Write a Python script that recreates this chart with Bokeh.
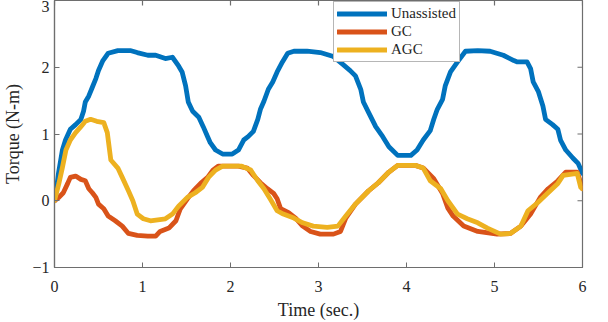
from bokeh.plotting import figure
from bokeh.models import Range1d, FixedTicker, Legend, LegendItem
from bokeh.embed import file_html
from bokeh.resources import INLINE

# ---- data ----
t_unassisted = [0.0, 0.01, 0.045, 0.09, 0.125, 0.18, 0.24, 0.30, 0.33, 0.35, 0.39, 0.43, 0.47, 0.50, 0.55,
                0.61, 0.72, 0.86, 0.94, 1.06, 1.15, 1.26, 1.34, 1.41, 1.45, 1.49, 1.52, 1.57, 1.64, 1.69,
                1.74, 1.77, 1.83, 1.91, 2.02, 2.09, 2.15, 2.20, 2.26, 2.31, 2.34, 2.38, 2.43, 2.48, 2.53,
                2.59, 2.65, 2.72, 2.87, 3.02, 3.17, 3.27, 3.36, 3.42, 3.48, 3.51, 3.57, 3.65, 3.73, 3.80,
                3.90, 4.05, 4.12, 4.19, 4.27, 4.31, 4.35, 4.41, 4.44, 4.50, 4.58, 4.67, 4.81, 4.95, 5.10,
                5.22, 5.26, 5.37, 5.41, 5.44, 5.50, 5.55, 5.58, 5.66, 5.72, 5.75, 5.81, 5.89, 5.95, 6.0]
v_unassisted = [0.0, 0.05, 0.41, 0.76, 0.91, 1.07, 1.14, 1.22, 1.34, 1.48, 1.57, 1.70, 1.83, 1.95, 2.10,
                2.21, 2.25, 2.25, 2.22, 2.18, 2.18, 2.13, 2.15, 2.02, 1.93, 1.72, 1.48, 1.34, 1.25, 1.11,
                0.96, 0.87, 0.76, 0.70, 0.70, 0.76, 0.91, 0.96, 1.04, 1.22, 1.37, 1.49, 1.67, 1.78, 1.93,
                2.08, 2.21, 2.24, 2.24, 2.22, 2.16, 2.05, 1.95, 1.87, 1.67, 1.48, 1.32, 1.11, 0.96, 0.81,
                0.68, 0.68, 0.76, 0.91, 1.05, 1.22, 1.37, 1.52, 1.72, 1.93, 2.08, 2.24, 2.25, 2.24, 2.18,
                2.10, 2.08, 2.08, 1.98, 1.78, 1.63, 1.42, 1.22, 1.14, 1.07, 0.91, 0.76, 0.64, 0.56, 0.41]

t_gc = [0.0, 0.05, 0.10, 0.15, 0.18, 0.24, 0.30, 0.35, 0.39, 0.43, 0.47, 0.50, 0.56, 0.61, 0.69, 0.77,
        0.84, 0.94, 1.06, 1.15, 1.20, 1.30, 1.38, 1.43, 1.51, 1.58, 1.66, 1.74, 1.80, 1.86, 2.09, 2.19,
        2.26, 2.34, 2.42, 2.49, 2.53, 2.57, 2.66, 2.74, 2.82, 2.91, 3.02, 3.17, 3.25, 3.31, 3.42, 3.57,
        3.68, 3.80, 3.90, 4.10, 4.19, 4.31, 4.41, 4.47, 4.53, 4.65, 4.81, 5.03, 5.18, 5.30, 5.41, 5.52,
        5.61, 5.72, 5.81, 5.94, 6.0]
v_gc = [0.0, 0.05, 0.12, 0.26, 0.35, 0.37, 0.32, 0.30, 0.18, 0.12, 0.05, -0.05, -0.12, -0.23, -0.30, -0.38,
        -0.49, -0.52, -0.53, -0.53, -0.46, -0.41, -0.30, -0.12, 0.03, 0.15, 0.26, 0.35, 0.46, 0.52, 0.52, 0.49,
        0.38, 0.27, 0.18, 0.11, 0.03, -0.12, -0.18, -0.26, -0.38, -0.46, -0.50, -0.50, -0.46, -0.26, -0.05, 0.15,
        0.27, 0.43, 0.53, 0.53, 0.49, 0.33, 0.11, -0.11, -0.23, -0.38, -0.46, -0.50, -0.49, -0.38, -0.20, 0.05,
        0.18, 0.30, 0.43, 0.43, 0.18]

t_agc = [0.0, 0.05, 0.09, 0.13, 0.18, 0.24, 0.30, 0.35, 0.41, 0.48, 0.56, 0.60, 0.64, 0.72, 0.77, 0.84,
         0.89, 0.94, 1.01, 1.09, 1.26, 1.34, 1.41, 1.51, 1.60, 1.68, 1.75, 1.83, 1.91, 2.12, 2.23, 2.31,
         2.38, 2.45, 2.53, 2.60, 2.72, 2.82, 2.94, 3.10, 3.22, 3.31, 3.42, 3.57, 3.68, 3.80, 3.90, 4.10,
         4.19, 4.27, 4.39, 4.47, 4.58, 4.69, 4.81, 4.92, 5.07, 5.18, 5.30, 5.38, 5.49, 5.60, 5.72, 5.78,
         5.94, 5.98, 6.0]
v_agc = [0.0, 0.26, 0.50, 0.76, 0.91, 1.02, 1.11, 1.19, 1.22, 1.19, 1.17, 1.02, 0.61, 0.49, 0.35, 0.15,
         0.0, -0.20, -0.27, -0.30, -0.27, -0.20, -0.08, 0.05, 0.12, 0.20, 0.35, 0.46, 0.52, 0.52, 0.46, 0.30,
         0.18, 0.03, -0.15, -0.20, -0.26, -0.33, -0.38, -0.40, -0.38, -0.23, -0.05, 0.15, 0.27, 0.43, 0.53, 0.53,
         0.49, 0.30, 0.18, 0.0, -0.20, -0.27, -0.33, -0.41, -0.50, -0.49, -0.38, -0.15, -0.03, 0.11, 0.26, 0.38,
         0.41, 0.20, 0.18]

labels = ["Unassisted", "GC", "AGC"]
colors = ["#0072BD", "#D95319", "#EDB120"]
x_ticks = [0, 1, 2, 3, 4, 5, 6]
y_ticks = [-1, 0, 1, 2, 3]
x_min, x_max, y_min, y_max = 0, 6, -1, 3

FONT = "Liberation Serif"
AX = "#6e6e6e"
TXT = "#262626"

p = figure(width=608, height=322, output_backend="svg", toolbar_location=None,
           x_range=Range1d(x_min, x_max), y_range=Range1d(y_min, y_max),
           min_border_left=10, min_border_right=26, min_border_top=0, min_border_bottom=55)
p.xgrid.visible = False
p.ygrid.visible = False
p.outline_line_color = AX
p.outline_line_width = 1.2
p.background_fill_color = "white"
p.border_fill_color = "white"

for ax in (p.xaxis[0], p.yaxis[0]):
    ax.axis_line_color = AX
    ax.axis_line_width = 1.2
    ax.major_tick_line_color = AX
    ax.major_tick_in = 5
    ax.major_tick_out = 0
    ax.minor_tick_line_color = None
    ax.major_label_text_font = FONT
    ax.major_label_text_font_size = "16px"
    ax.major_label_text_color = TXT
    ax.axis_label_text_font = FONT
    ax.axis_label_text_font_size = "18px"
    ax.axis_label_text_font_style = "normal"
    ax.axis_label_text_color = TXT

p.xaxis.ticker = FixedTicker(ticks=x_ticks)
p.yaxis.ticker = FixedTicker(ticks=y_ticks)
p.xaxis.axis_label = "Time (sec.)"
p.yaxis.axis_label = "Torque (N-m)"
p.xaxis.major_label_standoff = 13
p.xaxis.axis_label_standoff = 5
p.yaxis.major_label_standoff = 5
p.yaxis.axis_label_standoff = 6

# mirrored inward ticks on the top and right edges of the box
tick_dy = 5 * (y_max - y_min) / 264.0
tick_dx = 5 * (x_max - x_min) / 528.0
p.segment(x0=x_ticks, y0=[y_max] * len(x_ticks), x1=x_ticks, y1=[y_max - tick_dy] * len(x_ticks),
          line_color=AX, line_width=1.2)
p.segment(x0=[x_max] * len(y_ticks), y0=y_ticks, x1=[x_max - tick_dx] * len(y_ticks), y1=y_ticks,
          line_color=AX, line_width=1.2)

r1 = p.line(t_unassisted, v_unassisted, color=colors[0], line_width=4.8, line_join="round", line_cap="round")
r2 = p.line(t_gc, v_gc, color=colors[1], line_width=4.8, line_join="round", line_cap="round")
r3 = p.line(t_agc, v_agc, color=colors[2], line_width=4.8, line_join="round", line_cap="round")

legend = Legend(items=[LegendItem(label=labels[0], renderers=[r1]),
                       LegendItem(label=labels[1], renderers=[r2]),
                       LegendItem(label=labels[2], renderers=[r3])],
                location=(279, 205), orientation="vertical",
                label_text_font=FONT, label_text_font_size="15px", label_text_color=TXT,
                glyph_width=50, glyph_height=17, label_height=17, label_standoff=4,
                spacing=1, padding=3, margin=0,
                border_line_color=AX, border_line_width=1.2,
                background_fill_color="white", background_fill_alpha=1.0)
p.add_layout(legend, "center")

open("out.html", "w").write(file_html(p, INLINE))
